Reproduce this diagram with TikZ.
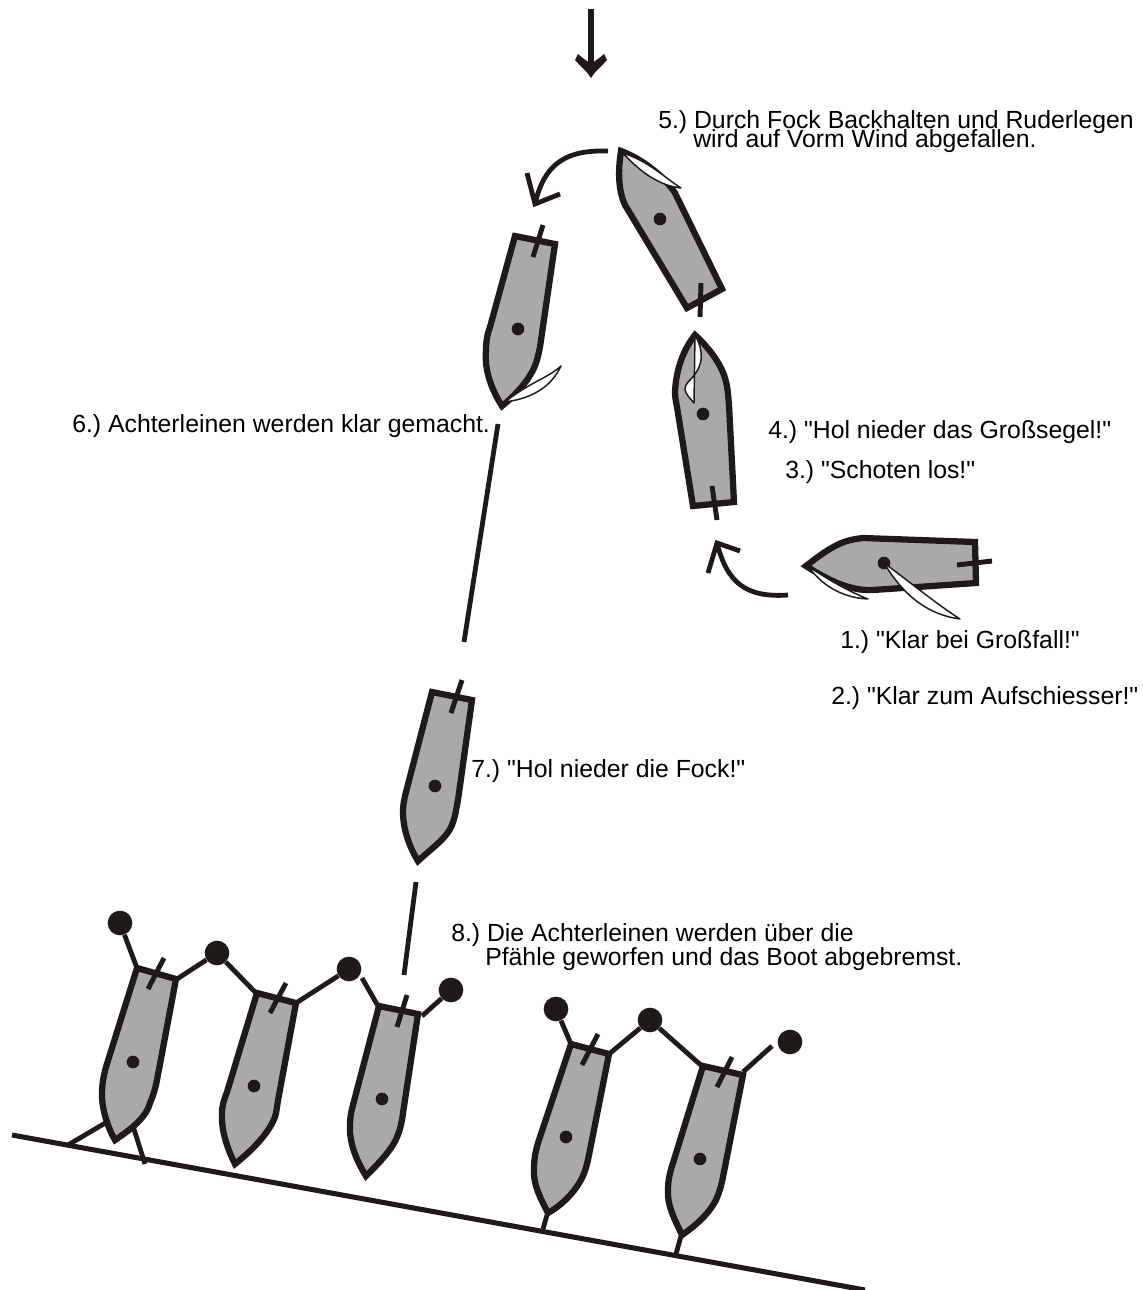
\documentclass[tikz,border=0pt]{standalone}
\usepackage{fontspec}
\newfontfamily\labfont{Liberation Sans}
\definecolor{ink}{HTML}{1F1A17}
\definecolor{hull}{HTML}{A9A9A9}
\tikzset{
  hullshape/.style={draw=ink,fill=hull,line width=4.7pt,line join=miter,miter limit=6},
  rudder/.style={draw=ink,line width=3.7pt},
  line/.style={draw=ink,line width=3.6pt},
  sailshape/.style={draw=ink,fill=white,line width=1.1pt,line join=round},
  mastdot/.style={circle,fill=ink,inner sep=0pt,minimum size=9.5pt},
  post/.style={circle,fill=ink,inner sep=0pt,minimum size=18.5pt},
  lab/.style={anchor=base west,inner sep=0pt,font=\labfont\fontsize{18.6pt}{20pt}\selectfont,text=black}
}
\begin{document}
\begin{tikzpicture}[x=0.75pt,y=-0.75pt]
\frenchspacing
\useasboundingbox (0,0) rectangle (1143,1290);
% wind arrow
\coordinate (w0) at (591,9); \coordinate (w1) at (591,70);
\draw[draw=ink,line width=4.9pt] (w0) -- (w1);
\fill[ink] (591,78) .. controls (586,70) and (580,66) .. (575,60) -- (578,54) .. controls (582,58) and (586,60) .. (591,64) .. controls (596,60) and (600,58) .. (604,54) -- (607,60) .. controls (602,66) and (596,70) .. cycle;
% turning arrows
\coordinate (a1) at (608,151); \coordinate (a2) at (535,204);
\draw[line] (a1) .. controls (570,150) and (545,160) .. (a2);
\draw[line,line join=miter] (527,173) -- (a2) -- (560,194);
\coordinate (b1) at (788,595); \coordinate (b2) at (717,543);
\draw[line] (b1) .. controls (745,598) and (727,582) .. (b2);
\draw[line,line join=miter] (740,551) -- (b2) -- (708,573);
% course lines
\coordinate (c1) at (498,424); \coordinate (c2) at (464,642);
\draw[line] (c1) -- (c2);
\coordinate (c3) at (416,882); \coordinate (c4) at (404,975);
\draw[line] (c3) -- (c4);
% boat 5
\draw[hullshape] (621,151) .. controls (618,170) and (618,190) .. (625,205) -- (687,308) -- (722,289) -- (675,193) .. controls (665,178) and (645,160) .. cycle;
\draw[sailshape] (623,153) .. controls (640,172) and (660,186) .. (681,188) .. controls (665,178) and (650,162) .. cycle;
\node[mastdot] (m5) at (660,219) {};
\coordinate (r5a) at (701,283); \coordinate (r5b) at (700,317);
\draw[rudder] (r5a) -- (r5b);
% boat 6
\draw[hullshape] (502,406) .. controls (493,392) and (484,372) .. (486,350) .. controls (486,342) and (487,335) .. (490,327) -- (515,236) -- (555,244) -- (540,347) .. controls (538,357) and (536,365) .. (532,372) .. controls (525,385) and (512,398) .. cycle;
\draw[sailshape] (505,402) .. controls (530,382) and (548,378) .. (561,366) .. controls (552,385) and (535,398) .. cycle;
\node[mastdot] (m6) at (518,329) {};
\coordinate (r6a) at (543,225); \coordinate (r6b) at (533,257);
\draw[rudder] (r6a) -- (r6b);
% boat 4
\draw[hullshape] (695,335) .. controls (683,350) and (676,370) .. (675,392) .. controls (675,397) and (676,402) .. (677,407) -- (693,506) -- (734,502) -- (729,405) .. controls (728,395) and (728,388) .. (725,378) .. controls (720,362) and (708,347) .. cycle;
\draw[sailshape] (695,335) .. controls (708,358) and (698,372) .. (690,380) .. controls (682,388) and (684,392) .. (694,403) -- cycle;
\node[mastdot] (m4) at (703,414) {};
\coordinate (r4a) at (712,486); \coordinate (r4b) at (717,520);
\draw[rudder] (r4a) -- (r4b);
% boat 1
\draw[hullshape] (806,566) .. controls (815,559) and (825,551) .. (837,545) .. controls (845,541) and (853,539) .. (863,538) -- (975,542) -- (976,583) -- (873,590) .. controls (865,590) and (860,590) .. (853,588) .. controls (838,585) and (820,575) .. cycle;
\draw[sailshape] (808,566) .. controls (825,590) and (848,598) .. (868,599) .. controls (850,592) and (825,578) .. cycle;
\node[mastdot] (m1) at (884,563) {};
\draw[sailshape] (m1.center) .. controls (905,598) and (930,615) .. (960,619) .. controls (935,603) and (910,582) .. cycle;
\coordinate (r1a) at (957,565); \coordinate (r1b) at (992,561);
\draw[rudder] (r1a) -- (r1b);
% boat 7
\draw[hullshape] (418,861) .. controls (410,848) and (403,830) .. (403,812) .. controls (403,805) and (404,800) .. (406,792) -- (432,692) -- (472,700) -- (458,800) .. controls (456,810) and (455,818) .. (452,825) .. controls (447,838) and (432,848) .. cycle;
\node[mastdot] (m7) at (435,786) {};
\coordinate (r7a) at (462,680); \coordinate (r7b) at (451,713);
\draw[rudder] (r7a) -- (r7b);
% shore
\coordinate (s1) at (12,1135); \coordinate (s2) at (865,1290);
\draw[draw=ink,line width=3.8pt] (s1) -- (s2);
% boat b1
\coordinate (l1) at (68,1145); \coordinate (l2) at (107,1122);
\draw[line] (l1) -- (l2);
\coordinate (l3) at (133,1126); \coordinate (l4) at (145,1164);
\draw[line] (l3) -- (l4);
\draw[hullshape] (115,1140) .. controls (108,1128) and (102,1110) .. (102,1095) .. controls (102,1085) and (103,1078) .. (106,1067) -- (137,968) -- (176,979) -- (157,1080) .. controls (155,1090) and (153,1096) .. (150,1103) .. controls (146,1118) and (130,1130) .. cycle;
\node[mastdot] (mb1) at (133,1062) {};
\coordinate (r8a) at (164,958); \coordinate (r8b) at (148,989);
\draw[rudder] (r8a) -- (r8b);
\node[post] (p1) at (120,923) {};
\node[post] (p2) at (217,953) {};
\coordinate (e1) at (137,968); \coordinate (e2) at (177,979); \coordinate (e3) at (256,993);
\draw[line] (p1) -- (e1);
\draw[line] (e2) -- (p2) -- (e3);
% boat b2
\draw[hullshape] (235,1164) .. controls (227,1148) and (221,1130) .. (222,1113) .. controls (222,1105) and (224,1100) .. (227,1092) -- (257,993) -- (296,1003) -- (279,1095) .. controls (277,1105) and (277,1110) .. (275,1117) .. controls (268,1135) and (250,1152) .. cycle;
\node[mastdot] (mb2) at (254,1086) {};
\coordinate (r9a) at (286,983); \coordinate (r9b) at (270,1013);
\draw[rudder] (r9a) -- (r9b);
\node[post] (p3) at (349,969) {};
\coordinate (e4) at (296,1003); \coordinate (e5) at (362,978); \coordinate (e6) at (378,1006);
\draw[line] (e4) -- (p3);
\draw[line] (e5) -- (e6);
% boat b3
\draw[hullshape] (366,1176) .. controls (356,1160) and (349,1142) .. (350,1125) .. controls (350,1118) and (351,1112) .. (353,1105) -- (379,1006) -- (418,1014) -- (403,1113) .. controls (402,1122) and (400,1130) .. (397,1137) .. controls (392,1150) and (377,1165) .. cycle;
\node[mastdot] (mb3) at (382,1099) {};
\coordinate (r10a) at (407,995); \coordinate (r10b) at (397,1027);
\draw[rudder] (r10a) -- (r10b);
\node[post] (p4) at (451,990) {};
\coordinate (e7) at (422,1016);
\draw[line] (e7) -- (p4);
% boat b4
\coordinate (l5) at (547,1215); \coordinate (l6) at (543,1229);
\draw[line] (l5) -- (l6);
\draw[hullshape] (548,1213) .. controls (540,1197) and (533,1185) .. (534,1168) .. controls (534,1158) and (536,1150) .. (538,1143) -- (571,1044) -- (609,1054) -- (589,1155) .. controls (587,1165) and (585,1172) .. (582,1178) .. controls (575,1192) and (562,1205) .. cycle;
\node[mastdot] (mb4) at (566,1137) {};
\coordinate (r11a) at (598,1034); \coordinate (r11b) at (582,1065);
\draw[rudder] (r11a) -- (r11b);
\node[post] (p5) at (556,1009) {};
\node[post] (p6) at (650,1020) {};
\coordinate (e8) at (571,1044); \coordinate (e9) at (609,1054); \coordinate (e10) at (703,1067);
\draw[line] (p5) -- (e8);
\draw[line] (e9) -- (p6) -- (e10);
% boat b5
\coordinate (l7) at (681,1236); \coordinate (l8) at (676,1254);
\draw[line] (l7) -- (l8);
\draw[hullshape] (682,1235) .. controls (674,1218) and (667,1205) .. (668,1190) .. controls (668,1180) and (670,1172) .. (673,1163) -- (703,1066) -- (743,1075) -- (723,1177) .. controls (721,1187) and (719,1193) .. (716,1200) .. controls (708,1215) and (695,1226) .. cycle;
\node[mastdot] (mb5) at (700,1159) {};
\coordinate (r12a) at (732,1057); \coordinate (r12b) at (717,1087);
\draw[rudder] (r12a) -- (r12b);
\node[post] (p7) at (790,1042) {};
\coordinate (e11) at (743,1072); \coordinate (e12) at (772,1046);
\draw[line] (e11) -- (e12);
% labels
\node[lab] (t5a) at (658,128) {5.) Durch Fock Backhalten und Ruderlegen};
\node[lab] (t5b) at (693,147) {wird auf Vorm Wind abgefallen.};
\node[lab] (t6) at (72,432) {6.) Achterleinen werden klar gemacht.};
\node[lab] (t4) at (768,438) {4.) "Hol nieder das Großsegel!"};
\node[lab] (t3) at (785,478) {3.) "Schoten los!"};
\node[lab] (t1) at (840,648) {1.) "Klar bei Großfall!"};
\node[lab] (t2) at (831,704) {2.) "Klar zum Aufschiesser!"};
\node[lab] (t7) at (471,777) {7.) "Hol nieder die Fock!"};
\node[lab] (t8a) at (451,941) {8.) Die Achterleinen werden über die};
\node[lab] (t8b) at (485,965) {Pfähle geworfen und das Boot abgebremst.};
\end{tikzpicture}
\end{document}
